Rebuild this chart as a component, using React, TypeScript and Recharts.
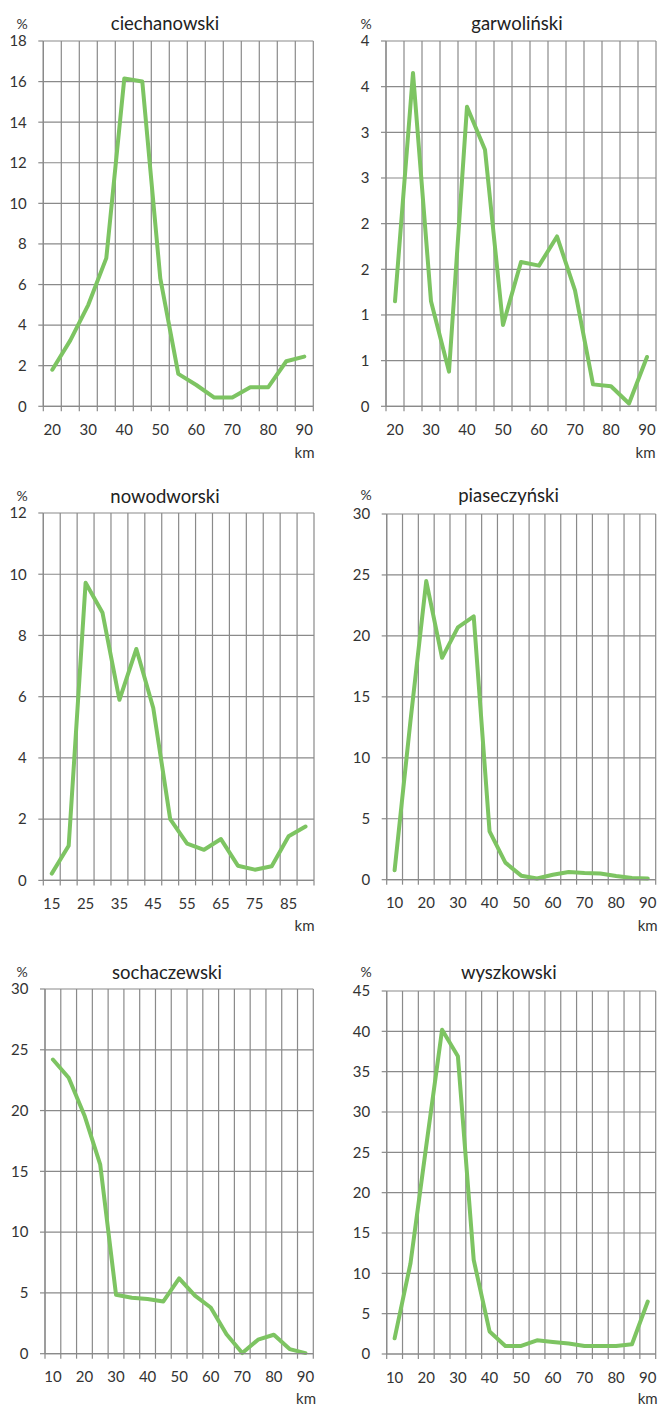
import { ComposedChart, Line, XAxis, YAxis, CartesianGrid } from 'recharts'

const GRID = '#8a8a8a'
const GREEN = '#7dc462'
const FONT = 'Lato, "Open Sans", sans-serif'
const TEXT = '#333333'

// distance categories (km)
const km20 = [20, 25, 30, 35, 40, 45, 50, 55, 60, 65, 70, 75, 80, 85, 90]
const km15 = [15, 20, 25, 30, 35, 40, 45, 50, 55, 60, 65, 70, 75, 80, 85, 90]
const km10 = [10, 15, 20, 25, 30, 35, 40, 45, 50, 55, 60, 65, 70, 75, 80, 85, 90]

// x tick labels
const labels20 = [20, 30, 40, 50, 60, 70, 80, 90]
const labels15 = [15, 25, 35, 45, 55, 65, 75, 85]
const labels10 = [10, 20, 30, 40, 50, 60, 70, 80, 90]

// y ticks
const yCiech = [0, 2, 4, 6, 8, 10, 12, 14, 16, 18]
const yGarw = [0, 0.5, 1, 1.5, 2, 2.5, 3, 3.5, 4]
const yNowod = [0, 2, 4, 6, 8, 10, 12]
const y30 = [0, 5, 10, 15, 20, 25, 30]
const yWysz = [0, 5, 10, 15, 20, 25, 30, 35, 40, 45]

// series (%)
const ciechanowski = [1.8, 3.25, 5.0, 7.3, 16.15, 16.0, 6.3, 1.6, 1.05, 0.43, 0.43, 0.94, 0.94, 2.22, 2.45]
const garwolinski = [1.15, 3.65, 1.15, 0.38, 3.28, 2.81, 0.89, 1.58, 1.54, 1.86, 1.27, 0.24, 0.22, 0.03, 0.54]
const nowodworski = [0.22, 1.13, 9.72, 8.74, 5.9, 7.56, 5.63, 2.0, 1.2, 1.0, 1.35, 0.48, 0.35, 0.46, 1.44, 1.76]
const piaseczynski = [0.77, 13.0, 24.5, 18.2, 20.7, 21.6, 3.96, 1.4, 0.33, 0.1, 0.4, 0.63, 0.55, 0.5, 0.3, 0.13, 0.1]
const sochaczewski = [24.2, 22.7, 19.6, 15.55, 4.85, 4.6, 4.5, 4.3, 6.2, 4.77, 3.8, 1.6, 0.05, 1.15, 1.56, 0.38, 0.05]
const wyszkowski = [1.94, 11.2, 25.8, 40.2, 36.9, 11.65, 2.8, 1.0, 1.0, 1.7, 1.5, 1.3, 1.0, 1.0, 1.0, 1.2, 6.5]

interface PanelProps {
  title: string
  km: number[]
  values: number[]
  xLabels: number[]
  yTicks: number[]
  round?: boolean
  left: number
  x0: number
  x1: number
  y0: number
  y1: number
  titleX: number
  titleY: number
  pctX: number
  pctY: number
  kmX: number
  kmY: number
}

const centered = (x: number, y: number, size: number, color: string): React.CSSProperties => ({
  position: 'absolute',
  left: x,
  top: y,
  transform: 'translate(-50%, -50%)',
  fontFamily: FONT,
  fontSize: size,
  lineHeight: 1,
  color,
  whiteSpace: 'nowrap',
})

function Panel(p: PanelProps) {
  const data = p.km.map((k, i) => ({ km: k, v: p.values[i] }))
  const step = p.km[1] - p.km[0]
  const first = p.km[0] - step / 2
  const last = p.km[p.km.length - 1] + step / 2
  // grid lines sit between categories, like the original
  const bounds = [...p.km.map((k) => k - step / 2), last]
  const top = p.y0 - 12
  const width = p.x1 - p.left + 4
  const height = p.y1 - p.y0 + 12 + 40
  const tickStyle = { fill: TEXT, fontSize: 15, fontFamily: FONT }

  return (
    <>
      <div style={centered(p.titleX, p.titleY, 18.5, '#222')}>{p.title}</div>
      <div style={centered(p.pctX, p.pctY, 14, TEXT)}>%</div>
      <div style={centered(p.kmX, p.kmY, 15, TEXT)}>km</div>
      <div style={{ position: 'absolute', left: p.left, top, width, height }}>
        <ComposedChart
          width={width}
          height={height}
          data={data}
          margin={{ top: 12, right: 4, bottom: 5, left: 0 }}
        >
          <CartesianGrid xAxisId="grid" stroke={GRID} strokeWidth={1.2} />
          <XAxis
            xAxisId="grid"
            dataKey="km"
            type="number"
            domain={[first, last]}
            ticks={bounds}
            interval={0}
            tickFormatter={() => ''}
            tickSize={5}
            tickLine={{ stroke: GRID, strokeWidth: 1.2 }}
            axisLine={{ stroke: GRID, strokeWidth: 1.2 }}
            height={5}
          />
          <XAxis
            xAxisId="lab"
            dataKey="km"
            type="number"
            domain={[first, last]}
            ticks={p.xLabels}
            interval={0}
            tickLine={false}
            axisLine={false}
            tickSize={0}
            tickMargin={13}
            tick={tickStyle}
            height={30}
          />
          <YAxis
            type="number"
            domain={[0, p.yTicks[p.yTicks.length - 1]]}
            ticks={p.yTicks}
            interval={0}
            width={p.x0 - p.left}
            tickSize={5}
            tickMargin={11.5}
            tickLine={{ stroke: GRID, strokeWidth: 1.2 }}
            axisLine={{ stroke: GRID, strokeWidth: 1.2 }}
            tick={tickStyle}
            tickFormatter={(v: number) => (p.round ? String(Math.round(v)) : String(v))}
          />
          <Line
            xAxisId="grid"
            type="linear"
            dataKey="v"
            stroke={GREEN}
            strokeWidth={4}
            strokeLinejoin="round"
            strokeLinecap="round"
            dot={false}
            activeDot={false}
            isAnimationActive={false}
          />
        </ComposedChart>
      </div>
    </>
  )
}

export default function App() {
  return (
    <div style={{ position: 'absolute', left: 0, top: 0, width: 659, height: 1405, background: '#fff' }}>
      <Panel title="ciechanowski" km={km20} values={ciechanowski} xLabels={labels20} yTicks={yCiech}
        left={0} x0={43.3} x1={313.3} y0={41} y1={406.3}
        titleX={165} titleY={22.5} pctX={22} pctY={24} kmX={304.5} kmY={452} />
      <Panel title="garwoliński" km={km20} values={garwolinski} xLabels={labels20} yTicks={yGarw} round
        left={330} x0={386} x1={656} y0={41} y1={406.3}
        titleX={517} titleY={22.5} pctX={366} pctY={24} kmX={645.5} kmY={452} />
      <Panel title="nowodworski" km={km15} values={nowodworski} xLabels={labels15} yTicks={yNowod}
        left={0} x0={43.3} x1={314} y0={513.3} y1={880.7}
        titleX={165} titleY={495.5} pctX={22} pctY={495.5} kmX={304.5} kmY={925} />
      <Panel title="piaseczyński" km={km10} values={piaseczynski} xLabels={labels10} yTicks={y30}
        left={330} x0={386.7} x1={655.7} y0={514.3} y1={880}
        titleX={508.5} titleY={495} pctX={366} pctY={495} kmX={647.7} kmY={925} />
      <Panel title="sochaczewski" km={km10} values={sochaczewski} xLabels={labels10} yTicks={y30}
        left={0} x0={45} x1={313.3} y0={989.3} y1={1354}
        titleX={167} titleY={972} pctX={22} pctY={972} kmX={306} kmY={1398} />
      <Panel title="wyszkowski" km={km10} values={wyszkowski} xLabels={labels10} yTicks={yWysz}
        left={330} x0={386.7} x1={655.7} y0={991} y1={1354}
        titleX={508.8} titleY={972} pctX={366} pctY={972} kmX={647.7} kmY={1398} />
    </div>
  )
}
